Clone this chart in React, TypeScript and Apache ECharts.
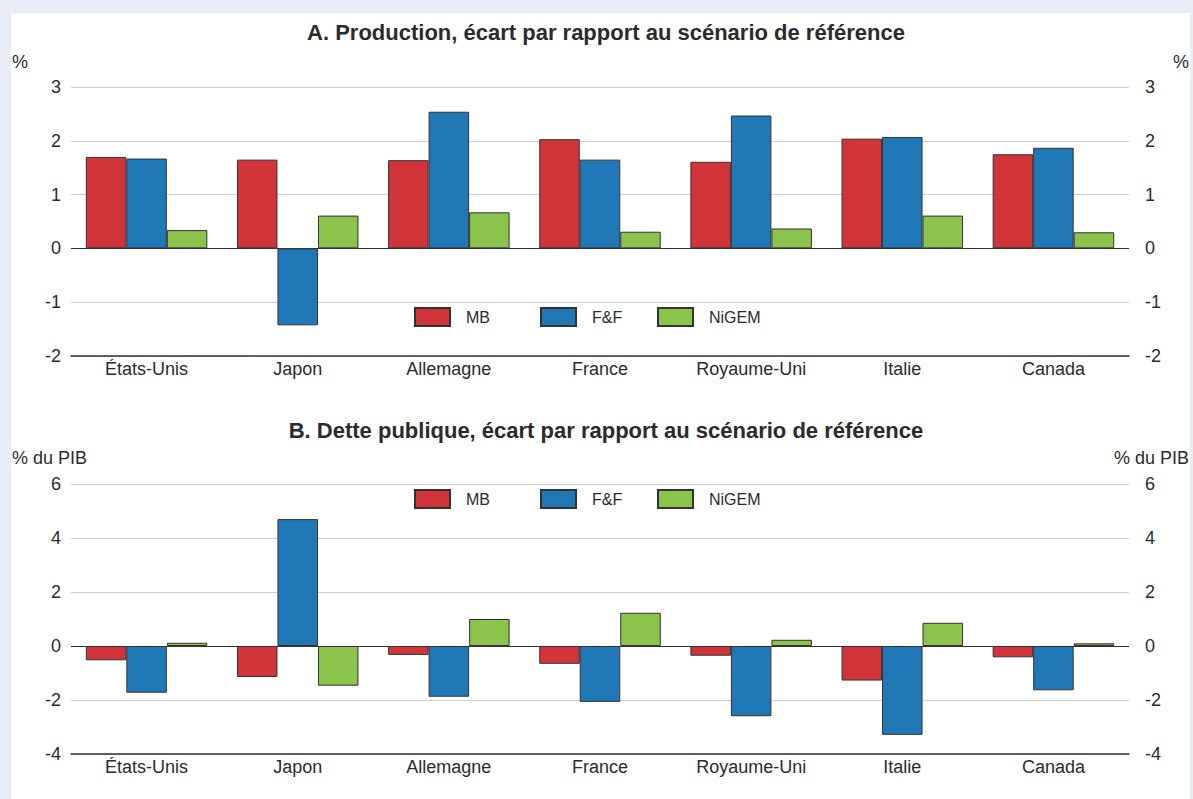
import React, { useEffect, useRef } from "react";
import * as echarts from "echarts";

const categories = ["États-Unis", "Japon", "Allemagne", "France", "Royaume-Uni", "Italie", "Canada"];
const seriesNames = ["MB", "F&F", "NiGEM"];
const colors = ["#D13439", "#2178B7", "#8BC34D"];

const prodMB = [1.7, 1.65, 1.64, 2.03, 1.61, 2.04, 1.75];
const prodFF = [1.67, -1.43, 2.54, 1.65, 2.47, 2.07, 1.87];
const prodNiGEM = [0.34, 0.61, 0.67, 0.31, 0.37, 0.61, 0.3];

const debtMB = [-0.53, -1.15, -0.33, -0.66, -0.36, -1.28, -0.42];
const debtFF = [-1.73, 4.7, -1.88, -2.07, -2.6, -3.29, -1.64];
const debtNiGEM = [0.12, -1.47, 1.0, 1.23, 0.23, 0.86, 0.1];

const titleA = "A. Production, écart par rapport au scénario de référence";
const titleB = "B. Dette publique, écart par rapport au scénario de référence";
const unitA = "%";
const unitB = "% du PIB";

const FONT = "'Liberation Sans', Arial, sans-serif";
const TXT = "#2b2b2b";

export default function App() {
  const ref = useRef<HTMLDivElement>(null);
  useEffect(() => {
    document.body.style.margin = "0";
    const chart = echarts.init(ref.current!, null, { renderer: "svg" });

    const grids = [
      { left: 71, right: 64, top: 87, height: 269 },
      { left: 71, right: 64, top: 484, height: 270 },
    ];
    const yCfg = [
      { min: -2, max: 3, interval: 1 },
      { min: -4, max: 6, interval: 2 },
    ];

    const xAxis = grids.map((_, i) => ({
      type: "category",
      gridIndex: i,
      data: categories,
      axisLine: { onZero: false, lineStyle: { color: "#333", width: 1.5 } },
      axisTick: { inside: true, length: 3, alignWithLabel: true, lineStyle: { color: "#333" } },
      axisLabel: { color: TXT, fontSize: 18, fontFamily: FONT, margin: 4 },
    }));

    const yAxis: any[] = [];
    grids.forEach((_, i) => {
      yAxis.push({
        type: "value",
        gridIndex: i,
        position: "left",
        ...yCfg[i],
        axisLine: { show: false },
        axisTick: { show: false },
        splitLine: { lineStyle: { color: "#cfcfcf", width: 1 } },
        axisLabel: { color: TXT, fontSize: 18, fontFamily: FONT, margin: 10 },
      });
      yAxis.push({
        type: "value",
        gridIndex: i,
        position: "right",
        ...yCfg[i],
        axisLine: { show: false },
        axisTick: { show: false },
        splitLine: { show: false },
        axisLabel: { color: TXT, fontSize: 18, fontFamily: FONT, margin: 16 },
      });
    });

    const data = [
      [prodMB, prodFF, prodNiGEM],
      [debtMB, debtFF, debtNiGEM],
    ];
    const series: any[] = [];
    data.forEach((group, gi) => {
      group.forEach((vals, si) => {
        series.push({
          type: "bar",
          name: seriesNames[si],
          xAxisIndex: gi,
          yAxisIndex: gi * 2,
          data: vals,
          barGap: "0%",
          barCategoryGap: "19.6%",
          itemStyle: { color: colors[si], borderColor: "#333", borderWidth: 1 },
          markLine:
            si === 0
              ? {
                  silent: true,
                  symbol: "none",
                  label: { show: false },
                  lineStyle: { color: "#333", width: 1.2, type: "solid" },
                  data: [{ yAxis: 0 }],
                  z: 10,
                }
              : undefined,
        });
      });
    });

    const legendX = [414, 540, 657];
    const legendY = [307, 489];
    const legend: any[] = [];
    legendY.forEach((ly) => {
      seriesNames.forEach((n, k) => {
        legend.push({
          data: [{ name: n, icon: "rect" }],
          left: legendX[k],
          top: ly,
          padding: 0,
          itemWidth: 35,
          itemHeight: 18,
          itemGap: 0,
          selectedMode: false,
          textStyle: { color: TXT, fontSize: 16, fontFamily: FONT, padding: [0, 0, 0, 11] },
        });
      });
    });

    const txt = (x: number, y: number, text: string, align: string, size = 18, weight = "normal") => ({
      type: "text",
      x,
      y,
      style: { text, fill: TXT, font: `${weight} ${size}px ${FONT}`, textAlign: align, textVerticalAlign: "middle" },
    });

    chart.setOption({
      animation: false,
      backgroundColor: "#E8EDF7",
      grid: grids,
      xAxis,
      yAxis,
      series,
      legend,
      graphic: [
        { type: "rect", z: -10, silent: true, shape: { x: 11, y: 13, width: 1179, height: 800 }, style: { fill: "#fff" } },
        txt(606, 32, titleA, "center", 22, "bold"),
        txt(606, 430, titleB, "center", 22, "bold"),
        txt(12, 62, unitA, "left"),
        txt(1189, 62, unitA, "right"),
        txt(12, 458, unitB, "left"),
        txt(1189, 458, unitB, "right"),
      ],
    });
    return () => chart.dispose();
  }, []);
  return <div ref={ref} style={{ width: 1193, height: 799 }} />;
}
